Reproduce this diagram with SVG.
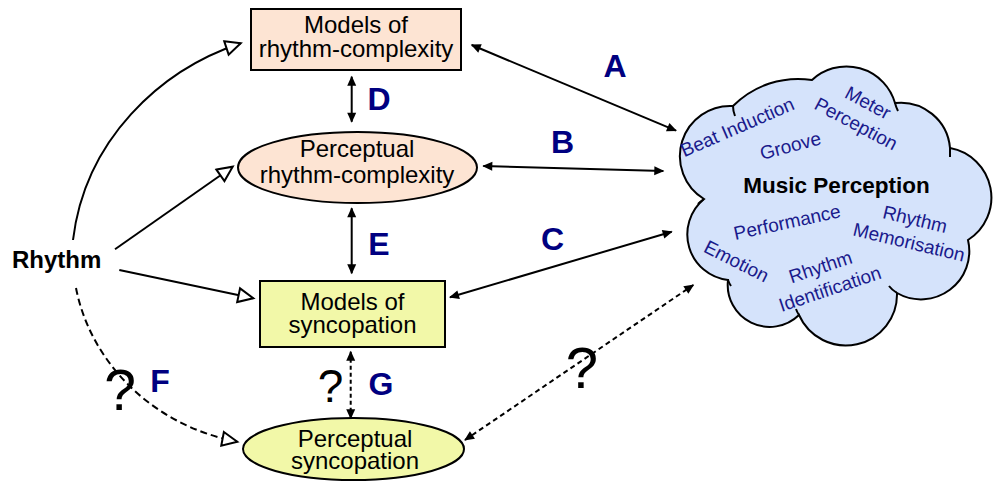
<svg xmlns="http://www.w3.org/2000/svg" width="993" height="482" viewBox="0 0 993 482">
<style>
.t{font-family:"Liberation Sans",Arial,sans-serif;font-size:24px;fill:#000;text-anchor:middle}
.lbl{font-family:"Liberation Sans",Arial,sans-serif;font-size:32px;font-weight:bold;fill:#000080;text-anchor:middle}
.ct{font-family:"Liberation Sans",Arial,sans-serif;font-size:19px;fill:#1a1a8c;text-anchor:middle}
.q{font-family:"Liberation Sans",Arial,sans-serif;fill:#000;text-anchor:middle}
.ln{fill:none;stroke:#000;stroke-width:2}
.nd{stroke:#000;stroke-width:2}
</style>
<defs>
<marker id="fa" markerUnits="userSpaceOnUse" markerWidth="10" markerHeight="9" refX="9" refY="4.5" orient="auto-start-reverse" overflow="visible">
<path d="M0,0 L10,4.5 L0,9 z" fill="#000" stroke="none"/>
</marker>
<marker id="ha" markerUnits="userSpaceOnUse" markerWidth="18" markerHeight="16" refX="16" refY="8" orient="auto" overflow="visible">
<path d="M1,1 L16,8 L1,15 z" fill="#fff" stroke="#000" stroke-width="2" stroke-dasharray="none"/>
</marker>
</defs>

<g id="connectors">
<path class="ln" d="M73,240 C85,140 160,70 240.7,43.3" marker-end="url(#ha)"/>
<path class="ln" d="M115,249.3 L232.7,166.7" marker-end="url(#ha)"/>
<path class="ln" d="M119.3,270 L253.3,298.3" marker-end="url(#ha)"/>
<path class="ln" d="M76,288 C90,360 150,425 237.3,441.7" stroke-dasharray="7 4" marker-end="url(#ha)"/>
<path class="ln" d="M351.7,76.7 L351.7,121.7" marker-start="url(#fa)" marker-end="url(#fa)"/>
<path class="ln" d="M351.7,208.3 L351.7,273.3" marker-start="url(#fa)" marker-end="url(#fa)"/>
<path class="ln" d="M350.7,351.7 L350.7,418.3" stroke-dasharray="4 3" marker-start="url(#fa)" marker-end="url(#fa)"/>
<path class="ln" d="M471.7,45 L676,130.7" marker-start="url(#fa)" marker-end="url(#fa)"/>
<path class="ln" d="M483.3,166 L663.3,171" marker-start="url(#fa)" marker-end="url(#fa)"/>
<path class="ln" d="M450,297.3 L671.7,231.7" marker-start="url(#fa)" marker-end="url(#fa)"/>
<path class="ln" d="M465,440 L693.3,285" stroke-dasharray="5 3.5" marker-start="url(#fa)" marker-end="url(#fa)"/>
</g>

<g id="labels">
<text class="lbl" x="615" y="77">A</text>
<text class="lbl" x="562.5" y="153">B</text>
<text class="lbl" x="552.5" y="250">C</text>
<text class="lbl" x="379" y="110">D</text>
<text class="lbl" x="379" y="255">E</text>
<text class="lbl" x="160" y="392">F</text>
<text class="lbl" x="381" y="395">G</text>
<text class="q" x="120" y="410" font-size="57">?</text>
<text class="q" x="330.5" y="402" font-size="46">?</text>
<text class="q" x="582" y="388" font-size="58">?</text>
</g>

<g id="rhythm">
<text x="12" y="268" style="font-family:'Liberation Sans',Arial,sans-serif;font-size:24px;font-weight:bold">Rhythm</text>
</g>

<g id="models-rhythm-complexity">
<rect class="nd" x="251" y="9" width="210" height="61" fill="#fde4d3"/>
<text class="t" x="356" y="33">Models of</text>
<text class="t" x="356" y="57">rhythm-complexity</text>
</g>

<g id="perceptual-rhythm-complexity">
<ellipse class="nd" cx="357.5" cy="167.5" rx="119.5" ry="35.5" fill="#fde4d3"/>
<text class="t" x="357" y="157">Perceptual</text>
<text class="t" x="357" y="182.5">rhythm-complexity</text>
</g>

<g id="models-syncopation">
<rect class="nd" x="260" y="281" width="185" height="66" fill="#f2f8a8"/>
<text class="t" x="352.5" y="310">Models of</text>
<text class="t" x="352.5" y="332.5">syncopation</text>
</g>

<g id="perceptual-syncopation">
<ellipse class="nd" cx="353.5" cy="449" rx="110.5" ry="31" fill="#f2f8a8"/>
<text class="t" x="355" y="446.5">Perceptual</text>
<text class="t" x="355" y="469">syncopation</text>
</g>

<g id="music-perception">
<path class="nd" fill="#d5e3fb" d="M704,199 A50.2,50.2 0 0 1 733,106 A91.5,91.5 0 0 1 812,80 A50.5,50.5 0 0 1 895,103 A49.5,49.5 0 0 1 950,148 A50.3,50.3 0 0 1 968,240 A48.3,48.3 0 0 1 897,293 A51.2,51.2 0 0 1 799,315 A42,42 0 0 1 728,280 A45.9,45.9 0 0 1 704,199 Z"/>
<path class="ln" d="M733,106 Q733,111 735,116 M895,103 Q896,107 898,111 M950,148 L950,157 M897,293 Q892,290 889,286 M799,315 Q797,312 796,309 M728,280 Q729,283 731,286 M704,199 Q701,201 698,204"/>
<text x="836.5" y="193" style="font-family:'Liberation Sans',Arial,sans-serif;font-size:22.5px;font-weight:bold;text-anchor:middle">Music Perception</text>
<text class="ct" transform="translate(740,133) rotate(-23.5)">Beat Induction</text>
<text class="ct" transform="translate(792,152) rotate(-15)">Groove</text>
<text class="ct" transform="translate(865,108.5) rotate(28)">Meter</text>
<text class="ct" transform="translate(853,129.5) rotate(28)">Perception</text>
<text class="ct" transform="translate(788.5,228.5) rotate(-12.2)">Performance</text>
<text class="ct" transform="translate(733.5,267) rotate(27)">Emotion</text>
<text class="ct" transform="translate(822.5,273) rotate(-18.5)">Rhythm</text>
<text class="ct" transform="translate(832,295) rotate(-18.5)">Identification</text>
<text class="ct" transform="translate(913.5,225.5) rotate(13.4)">Rhythm</text>
<text class="ct" transform="translate(907.5,248.5) rotate(13.4)">Memorisation</text>
</g>
</svg>
